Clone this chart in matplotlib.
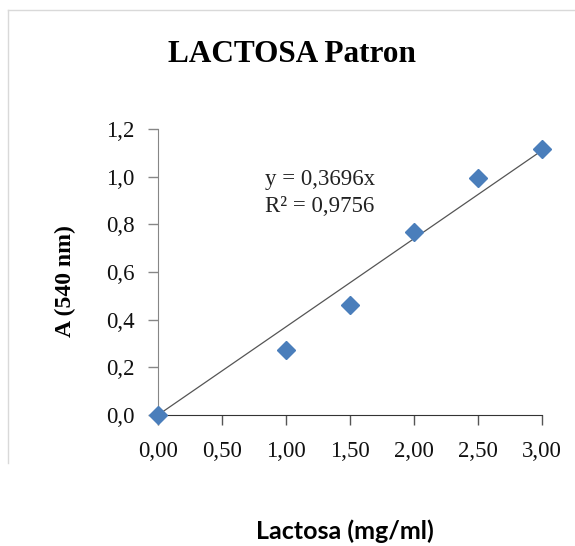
import matplotlib.pyplot as plt
from matplotlib.lines import Line2D

# Curva patrón de lactosa (absorbancia a 540 nm)
concentracion = [0.0, 1.0, 1.5, 2.0, 2.5, 3.0]
absorbancia = [0.0, 0.273, 0.462, 0.769, 0.993, 1.115]

pendiente = 0.3696
r2 = 0.9756

x_ticks = [0.0, 0.5, 1.0, 1.5, 2.0, 2.5, 3.0]
x_labels = ["0,00", "0,50", "1,00", "1,50", "2,00", "2,50", "3,00"]
y_ticks = [0.0, 0.2, 0.4, 0.6, 0.8, 1.0, 1.2]
y_labels = ["0,0", "0,2", "0,4", "0,6", "0,8", "1,0", "1,2"]

W, H = 575, 546
fig = plt.figure(figsize=(W / 100, H / 100), dpi=100)
ax = fig.add_axes([158 / W, 1 - 415 / H, (541.7 - 158) / W, (415 - 128.9) / H])

serif = "Liberation Serif"

# marco del gráfico (solo borde superior e izquierdo visibles)
fig.add_artist(Line2D([8 / W, 8 / W], [1 - 463 / H, 1 - 10 / H], color="#d9d9d9", lw=1))
fig.add_artist(Line2D([8 / W, 1.0], [1 - 10 / H, 1 - 10 / H], color="#d9d9d9", lw=1))

# línea de tendencia y = m x
x_fit = [0.0, 3.0]
y_fit = [pendiente * v for v in x_fit]
ax.plot(x_fit, y_fit, color="#555555", lw=0.9, zorder=2)

ax.plot(concentracion, absorbancia, linestyle="none", marker="D", ms=9,
        color="#4a7ebb", mec="#4a7ebb", clip_on=False, zorder=3)

ax.set_xlim(0, 3)
ax.set_ylim(0, 1.2)
ax.set_xticks(x_ticks)
ax.set_xticklabels(x_labels, fontfamily=serif, fontsize=16.5, color="#111111")
ax.set_yticks(y_ticks)
ax.set_yticklabels(y_labels, fontfamily=serif, fontsize=16.5, color="#111111")

for side in ["top", "right"]:
    ax.spines[side].set_visible(False)
ax.spines["left"].set_color("#868686")
ax.spines["bottom"].set_color("#333333")
ax.tick_params(axis="y", direction="out", length=7, width=1, color="#868686", pad=10)
ax.tick_params(axis="x", direction="out", length=7, width=1, color="#555555", pad=12)

ax.text(265 / W, 1 - 185 / H, f"y = {pendiente:.4f}x".replace(".", ","),
        transform=fig.transFigure, fontfamily=serif, fontsize=16.5, color="#222222")
ax.text(265 / W, 1 - 212 / H, f"R² = {r2:.4f}".replace(".", ","),
        transform=fig.transFigure, fontfamily=serif, fontsize=16.5, color="#222222")

fig.text(291.5 / W, 1 - 62 / H, "LACTOSA Patron", ha="center", va="baseline",
         fontfamily=serif, fontweight="bold", fontsize=22.5)
fig.text(65 / W, 1 - 281 / H, "A (540 nm)", ha="center", va="center", rotation=90,
         fontfamily=serif, fontweight="bold", fontsize=17)
fig.text(345 / W, 1 - 539 / H, "Lactosa (mg/ml)", ha="center", va="baseline",
         fontfamily="Lato", fontweight="bold", fontsize=18)

fig.savefig("out.png", dpi=100, facecolor="white")
